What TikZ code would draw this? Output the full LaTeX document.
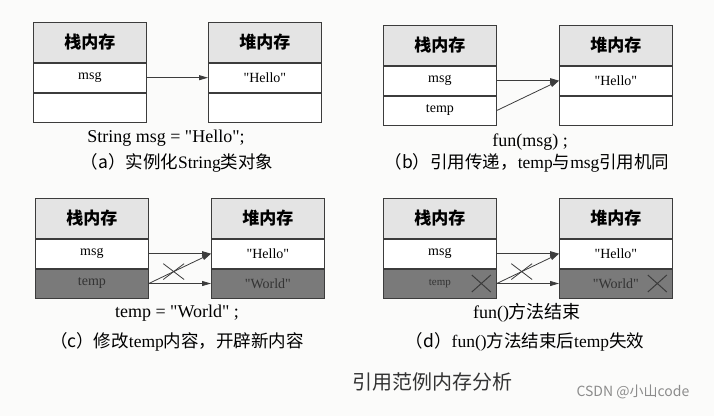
\documentclass[tikz,border=0pt]{standalone}
\usepackage{fontspec}
\setmainfont{Liberation Serif}[Ligatures=TeXOff]
\newfontfamily\cjk{Noto Sans CJK SC}
\usepackage{tikz}
\usetikzlibrary{arrows.meta, positioning, calc, shapes.misc}
\definecolor{boxline}{RGB}{60,60,60}
\definecolor{hdrgrey}{RGB}{228,228,228}
\definecolor{darkcell}{RGB}{122,122,122}
\definecolor{paper}{RGB}{251,251,250}
\definecolor{markgrey}{RGB}{140,140,140}
\tikzset{
  hdr/.style={rectangle, draw=boxline, fill=hdrgrey, minimum width=113pt,
    minimum height=40pt, inner sep=0pt,
    font=\fontsize{17}{17}\selectfont\cjk\bfseries, line width=0.8pt},
  cell/.style={rectangle, draw=boxline, fill=white, minimum width=113pt,
    minimum height=29pt, inner sep=0pt,
    font=\fontsize{14}{14}\selectfont, line width=0.8pt},
  dcell/.style={cell, fill=darkcell, text=black!80},
  ref/.style={-{Triangle[length=9pt,width=5pt]}, line width=0.8pt, color=boxline},
  codeline/.style={font=\fontsize{18}{18}\selectfont, inner sep=0pt},
  caption/.style={font=\fontsize{17.5}{18}\selectfont, inner sep=0pt},
  gone/.style={cross out, draw=boxline, line width=0.8pt,
    minimum width=20pt, minimum height=15pt, inner sep=0pt}
}

\begin{document}
\begin{tikzpicture}[x=1pt, y=-1pt]
  \fill[paper] (0,0) rectangle (714,416);
  \useasboundingbox (0,0) rectangle (714,416);

  % (a) instantiate
  \node[hdr, anchor=north west] (sa) at (33,22) {栈内存};
  \node[cell, below=0pt of sa] (sa1) {msg};
  \node[cell, below=0pt of sa1] (sa2) {};
  \node[hdr, anchor=north west] (ha) at (208,22) {堆内存};
  \node[cell, below=0pt of ha] (ha1) {"Hello"};
  \node[cell, below=0pt of ha1] (ha2) {};
  \draw[ref] (sa1) -- (ha1);
  \node[codeline] (codea) at (166,138) {String msg = "Hello";};
  \node[caption] (capa) at (177,163) {{\cjk （a）实例化}String{\cjk 类对象}};

  % (b) pass by reference
  \node[hdr, anchor=north west] (sb) at (383,25) {栈内存};
  \node[cell, below=0pt of sb] (sb1) {msg};
  \node[cell, below=0pt of sb1] (sb2) {temp};
  \node[hdr, anchor=north west] (hb) at (559,25) {堆内存};
  \node[cell, below=0pt of hb] (hb1) {"Hello"};
  \node[cell, below=0pt of hb1] (hb2) {};
  \draw[ref] (sb1) -- (hb1);
  \draw[ref] (sb2.east) -- (hb1.west);
  \node[codeline] (codeb) at (530,142) {fun(msg) ;};
  \node[caption] (capb) at (527,163) {{\cjk （b）引用传递，}temp{\cjk 与}msg{\cjk 引用机同}};

  % (c) new content
  \node[hdr, anchor=north west] (sc) at (35,198) {栈内存};
  \node[cell, below=0pt of sc] (sc1) {msg};
  \node[dcell, below=0pt of sc1] (sc2) {temp};
  \node[hdr, anchor=north west] (hc) at (211,198) {堆内存};
  \node[cell, below=0pt of hc] (hc1) {"Hello"};
  \node[dcell, below=0pt of hc1] (hc2) {"World"};
  \draw[ref] (sc1) -- (hc1);
  \draw[ref] (sc2.east) -- node[gone, pos=0.4] (xc) {} (hc1.west);
  \draw[ref] (sc2) -- (hc2);
  \node[codeline] (codec) at (177,313) {temp = "World" ;};
  \node[caption] (capc) at (177,342) {{\cjk （c）修改}temp{\cjk 内容，开辟新内容}};

  % (d) temp released
  \node[hdr, anchor=north west] (sd) at (383,198) {栈内存};
  \node[cell, below=0pt of sd] (sd1) {msg};
  \node[dcell, below=0pt of sd1, font=\fontsize{11}{11}\selectfont] (sd2) {temp};
  \node[hdr, anchor=north west] (hd) at (559,198) {堆内存};
  \node[cell, below=0pt of hd] (hd1) {"Hello"};
  \node[dcell, below=0pt of hd1] (hd2) {"World"};
  \draw[ref] (sd1) -- (hd1);
  \draw[ref] (sd2.east) -- node[gone, pos=0.4] (xd) {} (hd1.west);
  \draw[ref] (sd2) -- (hd2);
  \node[gone, line width=1pt, minimum width=18pt, minimum height=16pt, left=6pt of sd2.east] (xtemp) {};
  \node[gone, line width=1pt, minimum width=18pt, minimum height=16pt, left=6pt of hd2.east] (xworld) {};
  \node[codeline] (coded) at (527,313) {fun(){\cjk 方法结束}};
  \node[caption] (capd) at (525,342) {{\cjk （d）}fun(){\cjk 方法结束后}temp{\cjk 失效}};

  % title and mark
  \node[font=\fontsize{20}{20}\selectfont\cjk, text=black!80] (title) at (432,382) {引用范例内存分析};
  \node[font=\fontsize{14}{14}\selectfont\cjk, text=markgrey, anchor=west] (mark) at (573,392) {CSDN @小山code};
\end{tikzpicture}
\end{document}
